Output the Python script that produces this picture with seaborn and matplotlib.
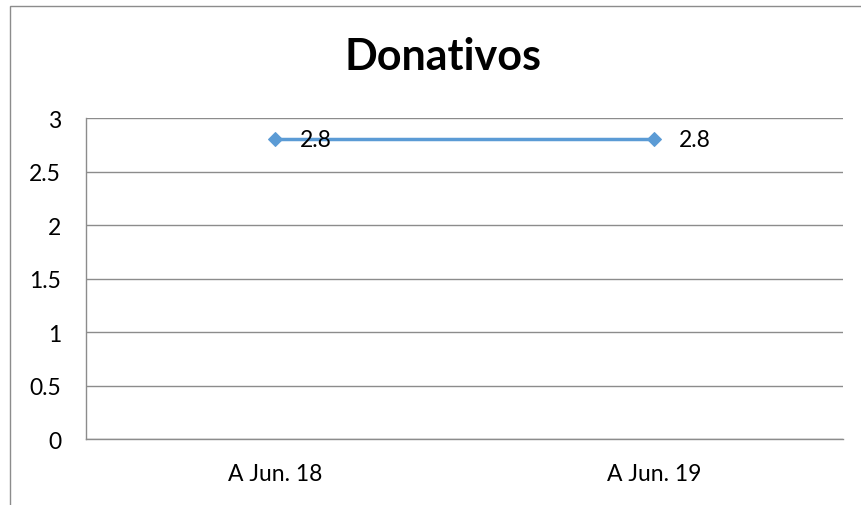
import matplotlib.pyplot as plt
import seaborn as sns
import pandas as pd
from matplotlib.patches import Rectangle

categories = ["A Jun. 18", "A Jun. 19"]
values = [2.8, 2.8]

sns.set_style("white")
plt.rcParams['font.family'] = ['Lato', 'DejaVu Sans']

df = pd.DataFrame({"periodo": categories, "donativos": values})

fig = plt.figure(figsize=(8.61, 5.06), dpi=100)
ax = fig.add_axes([0.0999, 0.1304, 0.8793, 0.6344])

# outer chart frame (open on the right / bottom like the screenshot)
fig.patches.append(Rectangle((10 / 861, -0.1), 1.2, (506 - 7) / 506 + 0.1,
                             transform=fig.transFigure, fill=False,
                             edgecolor="#8c8c8c", linewidth=1.0))

sns.lineplot(data=df, x="periodo", y="donativos", ax=ax, color="#5B9BD5",
             linewidth=2.5, marker="D", markersize=7, markeredgecolor="#5B9BD5")

for i, v in enumerate(values):
    ax.annotate(f"{v:g}", (i, v), xytext=(18, 0), textcoords="offset points",
                va="center", ha="left", fontsize=16.5, color="black")

ax.set_xlim(-0.5, 1.5)
ax.set_ylim(0, 3)
ax.set_yticks([0, 0.5, 1, 1.5, 2, 2.5, 3])
ax.set_yticklabels(["0", "0.5", "1", "1.5", "2", "2.5", "3"])
ax.yaxis.grid(True, color="#8c8c8c", linewidth=1.0)
ax.set_axisbelow(True)
for s in ["top", "right"]:
    ax.spines[s].set_visible(False)
for s in ["left", "bottom"]:
    ax.spines[s].set_color("#8c8c8c")
    ax.spines[s].set_linewidth(1.0)
ax.tick_params(axis="both", length=0, labelsize=16.5, colors="black")
ax.tick_params(axis="y", pad=18)
ax.tick_params(axis="x", pad=17)
ax.set_xlabel("")
ax.set_ylabel("")

fig.text(443 / 861, 1 - 57 / 506, "Donativos", ha="center", va="center",
         fontsize=31, fontweight="bold", color="black")

fig.savefig("out.png", dpi=100)
